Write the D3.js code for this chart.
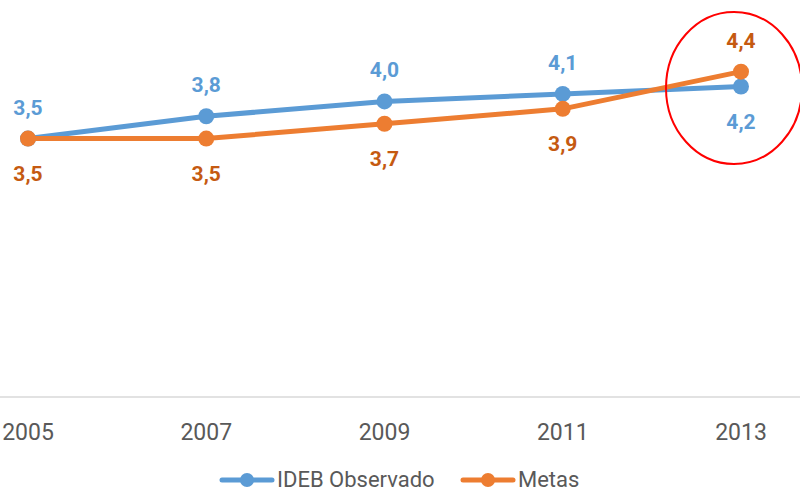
<!DOCTYPE html>
<meta charset="utf-8">
<style>
  body { margin: 0; background: #fff; }
  svg { font-family: Roboto, "Liberation Sans", sans-serif; }
</style>
<script src="https://d3js.org/d3.v7.min.js"></script>
<div id="chart"></div>
<script>
// data
var years = ["2005", "2007", "2009", "2011", "2013"];
var observado = [3.5, 3.8, 4.0, 4.1, 4.2];
var metas = [3.5, 3.5, 3.7, 3.9, 4.4];
var seriesNames = ["IDEB Observado", "Metas"];

var width = 800, height = 493;

var svg = d3.select("#chart").append("svg")
  .attr("width", width)
  .attr("height", height);

var x = d3.scalePoint().domain(years).range([28, 741]);
var y = d3.scaleLinear().domain([0, 5]).range([399, 27]);

// baseline
svg.append("line")
  .attr("x1", 0).attr("x2", width)
  .attr("y1", y(0) - 2).attr("y2", y(0) - 2)
  .style("stroke", "#d9d9d9")
  .style("stroke-width", 1.5);

// x labels
svg.selectAll(".xlab")
  .data(years).enter()
  .append("text")
  .attr("x", function(d) { return x(d); })
  .attr("y", 440)
  .attr("text-anchor", "middle")
  .style("font-size", "23px")
  .style("fill", "#595959")
  .text(function(d) { return d; });

var series = [
  { name: seriesNames[0], values: observado, line: "#5b9bd5", label: "#5b9bd5" },
  { name: seriesNames[1], values: metas, line: "#ed7d31", label: "#c55a11" }
];

var line = d3.line()
  .x(function(d, i) { return x(years[i]); })
  .y(function(d) { return y(d); });

series.forEach(function(s) {
  svg.append("path")
    .datum(s.values)
    .attr("d", line)
    .style("fill", "none")
    .style("stroke", s.line)
    .style("stroke-width", 5)
    .style("stroke-linejoin", "round");

  svg.selectAll(null)
    .data(s.values).enter()
    .append("circle")
    .attr("cx", function(d, i) { return x(years[i]); })
    .attr("cy", function(d) { return y(d); })
    .attr("r", 8)
    .style("fill", s.line);
});

// data labels: blue above, orange below, except the last point where they swap
function fmt(v) { return d3.format(".1f")(v).replace(".", ","); }

series.forEach(function(s, k) {
  svg.selectAll(null)
    .data(s.values).enter()
    .append("text")
    .attr("x", function(d, i) { return x(years[i]); })
    .attr("y", function(d, i) {
      var above = (k == 0) ? (i < 4) : (i == 4);
      return above ? y(d) - 24 : y(d) + 42;
    })
    .attr("text-anchor", "middle")
    .style("font-size", "21px")
    .style("font-weight", "bold")
    .style("fill", s.label)
    .text(function(d) { return fmt(d); });
});

// red highlight ellipse round 2013
svg.append("ellipse")
  .attr("cx", x("2013") - 7)
  .attr("cy", 88)
  .attr("rx", 68)
  .attr("ry", 76)
  .style("fill", "none")
  .style("stroke", "#ff0000")
  .style("stroke-width", 2);

// legend
var legend = svg.append("g").attr("transform", "translate(222,480)");
var legX = [0, 241];
series.forEach(function(s, k) {
  var g = legend.append("g").attr("transform", "translate(" + legX[k] + ",0)");
  g.append("line")
    .attr("x1", 0).attr("x2", 50)
    .style("stroke", s.line)
    .style("stroke-width", 5)
    .style("stroke-linecap", "round");
  g.append("circle").attr("cx", 25).attr("r", 7).style("fill", s.line);
  g.append("text")
    .attr("x", 55).attr("y", 7)
    .style("font-size", "22px")
    .style("fill", "#595959")
    .text(s.name);
});
</script>
